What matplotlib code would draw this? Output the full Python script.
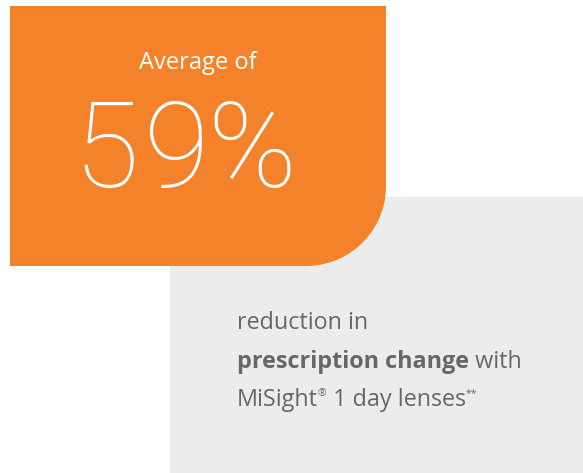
import numpy as np
import matplotlib
matplotlib.use('Agg')
import matplotlib.pyplot as plt
from matplotlib.patches import Polygon, Rectangle
from matplotlib import font_manager

# content
headline = 'Average of'
stat_value = 59
stat_unit = '%'
body_lines = [
    [('reduction in', 'normal', False)],
    [('prescription change', 'bold', False), (' with', 'normal', False)],
    [('MiSight', 'normal', False), ('®', 'normal', True),
     (' 1 day lenses', 'normal', False), ('**', 'normal', True)],
]

orange = '#F3822A'
grey_bg = '#ECECEC'
text_grey = '#676767'

W, H = 583, 473
fig = plt.figure(figsize=(W / 100, H / 100), dpi=100)
ax = fig.add_axes([0, 0, 1, 1])
ax.set_xlim(0, W)
ax.set_ylim(H, 0)
ax.axis('off')

# grey panel
ax.add_patch(Rectangle((170, 197), W - 170, H - 197, facecolor=grey_bg, edgecolor='none', zorder=1))

# orange panel with rounded bottom-right corner
x0, x1, y0, y1, r = 10, 386, 6, 266, 80
t = np.linspace(0, np.pi / 2, 40)
arc = np.column_stack([x1 - r + r * np.cos(t), y1 - r + r * np.sin(t)])
verts = np.vstack([[[x0, y0], [x1, y0]], arc, [[x0, y1]]])
ax.add_patch(Polygon(verts, closed=True, facecolor=orange, edgecolor='none', zorder=2))

ax.text(198, 63, headline, color='white', fontsize=17, family='Open Sans',
        ha='center', va='center', zorder=3)

# big number, drawn glyph by glyph for the wide tracking
big = f'{stat_value}{stat_unit}'
glyph_centre = [106, 177, 252]
thin = font_manager.FontProperties(family='Roboto', weight=100, size=86)
for ch, gx in zip(big, glyph_centre):
    ax.text(gx, 187, ch, color='white', fontproperties=thin,
            ha='center', va='baseline', zorder=3)

# body text, pieces laid out one after another
fig.canvas.draw()
renderer = fig.canvas.get_renderer()
inv = ax.transData.inverted()
baselines = [329, 368, 406]
for line, yb in zip(body_lines, baselines):
    x = 237
    for txt, weight, sup in line:
        t_obj = ax.text(x, yb - (10 if sup else 0), txt, color=text_grey,
                        fontsize=7.5 if sup else 16.8, fontweight=weight,
                        family='Open Sans', ha='left', va='baseline', zorder=3)
        bb = t_obj.get_window_extent(renderer)
        x = inv.transform((bb.x1, bb.y0))[0]

fig.savefig('out.png', dpi=100)
